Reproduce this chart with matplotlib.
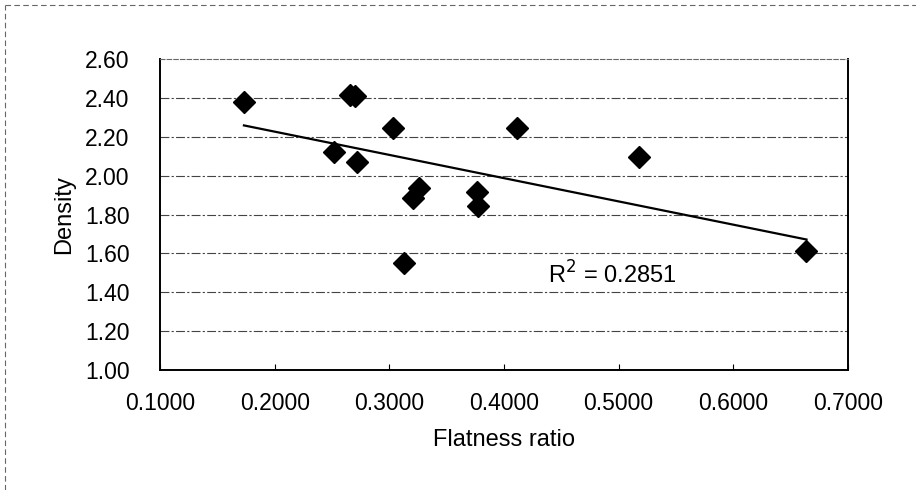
import numpy as np
import matplotlib.pyplot as plt
from matplotlib.lines import Line2D

# values
flatness = [0.1732, 0.2655, 0.2700, 0.3029, 0.4110, 0.2520, 0.2715,
            0.3261, 0.3209, 0.3761, 0.3769, 0.3127, 0.5173, 0.6638]
density = [2.377, 2.415, 2.412, 2.243, 2.243, 2.123, 2.072,
           1.938, 1.883, 1.914, 1.844, 1.552, 2.097, 1.614]
r2_text = "R$^2$ = 0.2851"

x_ticks = [0.1, 0.2, 0.3, 0.4, 0.5, 0.6, 0.7]
y_ticks = [1.0, 1.2, 1.4, 1.6, 1.8, 2.0, 2.2, 2.4, 2.6]

plt.rcParams['font.family'] = ['Liberation Sans', 'DejaVu Sans']

fig = plt.figure(figsize=(9.16, 4.90), dpi=100)
ax = fig.add_axes([160 / 916, 120 / 490, 688 / 916, 311 / 490])

# линия тренда (линейная регрессия)
slope, icpt = np.polyfit(flatness, density, 1)
xs = np.array([min(flatness), max(flatness)])
ax.plot(xs, slope * xs + icpt, color='black', linewidth=1.6, zorder=3)

ax.plot(flatness, density, linestyle='none', marker='D', markersize=11,
        color='black', zorder=4)

ax.set_xlim(0.1, 0.7)
ax.set_ylim(1.0, 2.6)
ax.set_xticks(x_ticks)
ax.set_xticklabels([f"{t:.4f}" for t in x_ticks])
ax.set_yticks(y_ticks)
ax.set_yticklabels([f"{t:.2f}" for t in y_ticks])
ax.tick_params(axis='both', labelsize=16.5, direction='in', length=4,
               width=0.8, color='black')
ax.tick_params(axis='x', pad=16)
ax.tick_params(axis='y', pad=22, length=0)

for v in y_ticks[1:-1]:
    ax.axhline(v, color='#444444', linewidth=0.8, dashes=(8, 2, 2, 2), zorder=1)

for side in ['left', 'right', 'bottom']:
    ax.spines[side].set_color('black')
    ax.spines[side].set_linewidth(1.4)
ax.spines['top'].set_color('#666666')
ax.spines['top'].set_linewidth(0.8)
ax.spines['top'].set_linestyle((0, (4, 2)))

ax.set_xlabel("Flatness ratio", fontsize=17, labelpad=10)
ax.set_ylabel("Density", fontsize=17, labelpad=7)

ax.text(0.494, 1.49, r2_text, fontsize=17, ha='center', va='center', zorder=5)

# рамка области диаграммы (видны только левый и верхний края)
fig.add_artist(Line2D([0.006, 0.006], [0.0, 0.99], transform=fig.transFigure,
                      color='#666666', linewidth=0.8, linestyle=(0, (5, 3))))
fig.add_artist(Line2D([0.006, 1.0], [0.99, 0.99], transform=fig.transFigure,
                      color='#666666', linewidth=0.8, linestyle=(0, (5, 3))))

fig.savefig("out.png", dpi=100)
